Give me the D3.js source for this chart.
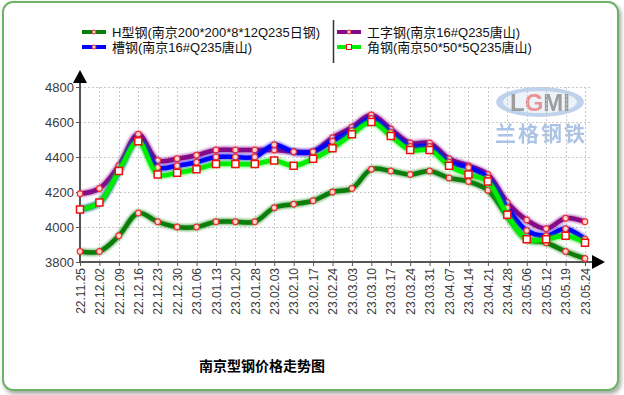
<!DOCTYPE html>
<html>
<head>
<meta charset="utf-8">
<script src="https://cdn.jsdelivr.net/npm/d3@7"></script>
<style>
  body { margin: 0; background: #fff; }
  svg { display: block; font-family: Arial, "Liberation Sans", sans-serif; }
</style>
</head>
<body>
<svg id="chart" width="624" height="395"></svg>
<script>
var dates = ['22.11.25', '22.12.02', '22.12.09', '22.12.16', '22.12.23', '22.12.30',
    '23.01.06', '23.01.13', '23.01.20', '23.01.28', '23.02.03', '23.02.10', '23.02.17',
    '23.02.24', '23.03.03', '23.03.10', '23.03.17', '23.03.24', '23.03.31', '23.04.07',
    '23.04.14', '23.04.21', '23.04.28', '23.05.06', '23.05.12', '23.05.19', '23.05.24'];

var hSteel = [3860, 3860, 3950, 4080, 4030, 4000, 4000, 4030, 4030, 4030, 4110, 4130, 4150,
    4200, 4220, 4330, 4320, 4300, 4320, 4280, 4260, 4210, 4060, 3930, 3910, 3860, 3820];
var iBeam = [4190, 4220, 4350, 4530, 4380, 4390, 4410, 4440, 4440, 4440, 4440, 4430, 4430,
    4510, 4570, 4640, 4560, 4480, 4480, 4390, 4350, 4300, 4140, 4040, 3990, 4050, 4030];
var channel = [4100, 4140, 4320, 4500, 4340, 4350, 4370, 4400, 4400, 4400, 4470, 4430, 4430,
    4490, 4550, 4620, 4540, 4460, 4460, 4370, 4340, 4280, 4110, 3980, 3950, 3990, 3930];
var angle = [4100, 4140, 4320, 4490, 4300, 4310, 4330, 4360, 4360, 4360, 4380, 4350, 4390,
    4450, 4530, 4600, 4520, 4440, 4440, 4350, 4300, 4260, 4070, 3930, 3930, 3950, 3910];

var yTicks = [3800, 4000, 4200, 4400, 4600, 4800];

var series = [
    { name: 'H型钢(南京200*200*8*12Q235日钢)', values: hSteel, color: '#0b7d0b', marker: 'circle' },
    { name: '工字钢(南京16#Q235唐山)', values: iBeam, color: '#850a85', marker: 'circle' },
    { name: '槽钢(南京16#Q235唐山)', values: channel, color: '#0000ff', marker: 'circle' },
    { name: '角钢(南京50*50*5Q235唐山)', values: angle, color: '#00ee00', marker: 'square' }
];

var svg = d3.select('#chart');

// frame with shadow
var defs = svg.append('defs');
var shadow = defs.append('filter').attr('id', 'shadow')
    .attr('x', '-5%').attr('y', '-5%').attr('width', '110%').attr('height', '110%');
shadow.append('feDropShadow').attr('dx', 2).attr('dy', 3)
    .attr('stdDeviation', 2).attr('flood-color', '#000').attr('flood-opacity', 0.35);
var blur = defs.append('filter').attr('id', 'soft');
blur.append('feGaussianBlur').attr('stdDeviation', 1.2);

svg.append('rect')
    .attr('x', 3).attr('y', 2)
    .attr('width', 615).attr('height', 388)
    .attr('rx', 10)
    .attr('fill', '#fff')
    .attr('stroke', '#6cb463')
    .attr('stroke-width', 2)
    .attr('filter', 'url(#shadow)');

var x0 = 80, x1 = 585, yTop = 87, yBottom = 262;

var x = d3.scalePoint().domain(dates).range([x0, x1]);
var y = d3.scaleLinear().domain([3800, 4800]).range([yBottom, yTop]);

// logo
var logo = svg.append('g').attr('opacity', 0.75);
logo.append('ellipse')
    .attr('cx', 540).attr('cy', 102).attr('rx', 44).attr('ry', 15)
    .attr('fill', '#a9c4e6');
logo.append('ellipse')
    .attr('cx', 540).attr('cy', 102).attr('rx', 37).attr('ry', 11)
    .attr('fill', '#e8eef8');
var lg = logo.append('text')
    .attr('x', 540).attr('y', 111)
    .attr('text-anchor', 'middle')
    .attr('font-size', 24)
    .attr('font-weight', 'bold')
    .attr('fill', '#7d7d7d');
lg.append('tspan').text('L');
lg.append('tspan').attr('fill', '#e07070').text('G');
lg.append('tspan').text('MI');
logo.append('text')
    .attr('x', 541).attr('y', 141)
    .attr('text-anchor', 'middle')
    .attr('font-size', 21)
    .attr('font-weight', 'bold')
    .attr('font-family', '"Noto Sans CJK SC"')
    .attr('letter-spacing', 2)
    .attr('fill', '#8fb0dc')
    .text('兰格钢铁');

// grid
svg.append('g').selectAll('line')
    .data(yTicks.slice(1)).enter()
    .append('line')
    .attr('x1', x0).attr('x2', x1 + 5)
    .attr('y1', function(d) { return y(d) + 0.5; })
    .attr('y2', function(d) { return y(d) + 0.5; })
    .attr('stroke', '#c8c8c8')
    .attr('stroke-dasharray', '2,2');

svg.append('g').selectAll('line')
    .data(dates.slice(1)).enter()
    .append('line')
    .attr('x1', function(d) { return Math.round(x(d)) + 0.5; })
    .attr('x2', function(d) { return Math.round(x(d)) + 0.5; })
    .attr('y1', yTop).attr('y2', yBottom)
    .attr('stroke', '#c8c8c8')
    .attr('stroke-dasharray', '2,2');

// axes
var yAxis = svg.append('g')
    .attr('transform', 'translate(' + x0 + ',0)')
    .call(d3.axisLeft(y).tickValues(yTicks).tickSize(4).tickPadding(2).tickFormat(d3.format('d')));
yAxis.select('.domain').remove();
yAxis.selectAll('line').attr('stroke', '#555');
yAxis.selectAll('text').attr('font-size', 13).attr('fill', '#3a3a3a')
    .attr('font-family', 'Arial, "Liberation Sans", sans-serif');

var xAxis = svg.append('g')
    .attr('transform', 'translate(0,' + yBottom + ')')
    .call(d3.axisBottom(x).tickSize(4).tickPadding(6));
xAxis.select('.domain').remove();
xAxis.selectAll('line').attr('stroke', '#555');
xAxis.selectAll('text')
    .attr('font-size', 12)
    .attr('fill', '#3a3a3a')
    .attr('font-family', 'Arial, "Liberation Sans", sans-serif')
    .attr('text-anchor', 'end')
    .attr('dy', '0.35em')
    .attr('transform', 'translate(0,6) rotate(-90)')
    .attr('x', 0).attr('y', 0);

svg.append('line')
    .attr('x1', x0).attr('x2', 596)
    .attr('y1', yBottom).attr('y2', yBottom)
    .attr('stroke', '#555').attr('stroke-width', 2);
svg.append('line')
    .attr('x1', x0).attr('x2', x0)
    .attr('y1', yBottom).attr('y2', 80)
    .attr('stroke', '#555').attr('stroke-width', 2);
svg.append('path')
    .attr('d', 'M' + x0 + ',70 L' + (x0 - 7) + ',83 L' + (x0 + 7) + ',83 Z')
    .attr('fill', '#000');
svg.append('path')
    .attr('d', 'M605,' + yBottom + ' L592,' + (yBottom - 7) + ' L592,' + (yBottom + 7) + ' Z')
    .attr('fill', '#000');

// lines
var line = d3.line()
    .x(function(d, i) { return x(dates[i]); })
    .y(function(d) { return y(d); })
    .curve(d3.curveCatmullRom.alpha(0.5));

var groups = svg.append('g').selectAll('g')
    .data(series).enter()
    .append('g');

groups.append('path')
    .attr('d', function(s) { return line(s.values); })
    .attr('fill', 'none')
    .attr('stroke', function(s) { return s.color; })
    .attr('stroke-opacity', 0.5)
    .attr('stroke-width', 7)
    .attr('filter', 'url(#soft)');
groups.append('path')
    .attr('d', function(s) { return line(s.values); })
    .attr('fill', 'none')
    .attr('stroke', function(s) { return s.color; })
    .attr('stroke-width', 4.5);

groups.each(function(s) {
    var g = d3.select(this);
    if (s.marker === 'square') {
        g.selectAll('rect').data(s.values).enter()
            .append('rect')
            .attr('x', function(d, i) { return x(dates[i]) - 3.5; })
            .attr('y', function(d) { return y(d) - 3.5; })
            .attr('width', 7).attr('height', 7)
            .attr('fill', '#fff')
            .attr('stroke', '#f01010')
            .attr('stroke-width', 1.5);
    } else {
        g.selectAll('circle').data(s.values).enter()
            .append('circle')
            .attr('cx', function(d, i) { return x(dates[i]); })
            .attr('cy', function(d) { return y(d); })
            .attr('r', 2.8)
            .attr('fill', '#ffd6d6')
            .attr('stroke', '#f03030')
            .attr('stroke-width', 1.2);
    }
});

// legend
var legendPos = [[82, 32], [337, 32], [82, 47], [337, 47]];
var legend = svg.append('g').selectAll('g')
    .data(series).enter()
    .append('g')
    .attr('transform', function(s, i) {
        return 'translate(' + legendPos[i][0] + ',' + legendPos[i][1] + ')';
    });
legend.append('line')
    .attr('x1', 0).attr('x2', 24)
    .attr('stroke', function(s) { return s.color; })
    .attr('stroke-width', 4);
legend.each(function(s) {
    var g = d3.select(this);
    if (s.marker === 'square') {
        g.append('rect').attr('x', 9.5).attr('y', -2.5).attr('width', 5).attr('height', 5)
            .attr('fill', '#fff').attr('stroke', '#f01010').attr('stroke-width', 1);
    } else {
        g.append('circle').attr('cx', 12).attr('cy', 0).attr('r', 2)
            .attr('fill', '#ffd6d6').attr('stroke', '#f03030').attr('stroke-width', 1);
    }
});
legend.append('text')
    .attr('x', 30).attr('y', 0)
    .attr('dy', '0.36em')
    .attr('font-size', 13)
    .attr('font-family', 'Arial, "Noto Sans CJK SC", sans-serif')
    .attr('fill', '#111')
    .text(function(s) { return s.name; });

svg.append('line')
    .attr('x1', 333.5).attr('x2', 333.5)
    .attr('y1', 20).attr('y2', 63)
    .attr('stroke', '#333').attr('stroke-width', 1.5);

// title
svg.append('text')
    .attr('x', 262).attr('y', 366)
    .attr('dy', '0.35em')
    .attr('text-anchor', 'middle')
    .attr('font-size', 14)
    .attr('font-weight', 'bold')
    .attr('font-family', '"Noto Sans CJK SC", sans-serif')
    .attr('fill', '#000')
    .text('南京型钢价格走势图');
</script>
</body>
</html>
